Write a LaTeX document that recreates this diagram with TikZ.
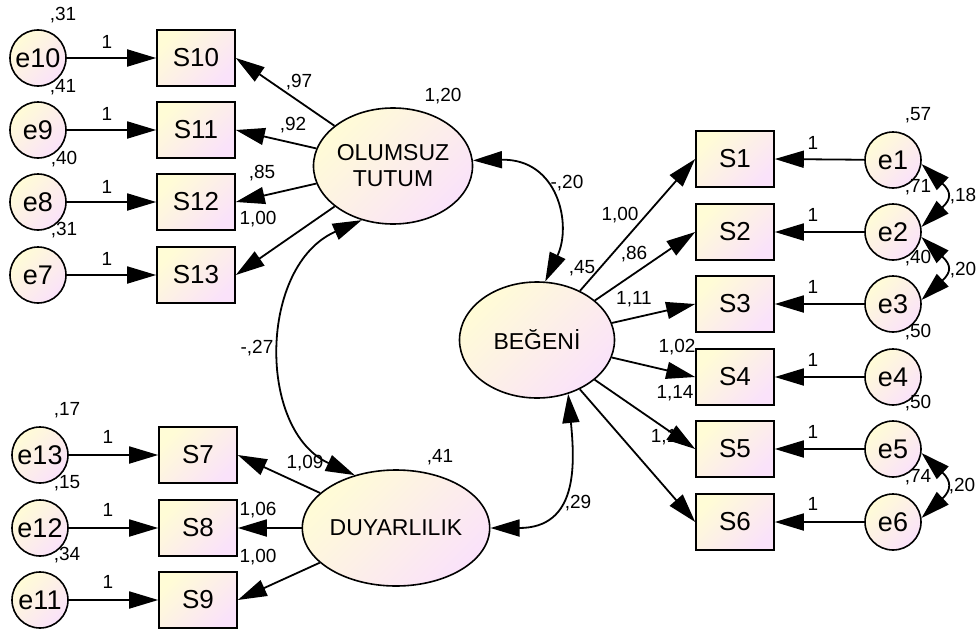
\documentclass[tikz,border=0pt]{standalone}
\usepackage{fontspec}
\setmainfont{Liberation Sans}
\usetikzlibrary{shapes.geometric,arrows.meta}
\definecolor{yel}{RGB}{255,252,214}
\definecolor{pnk}{RGB}{250,226,250}
\tikzset{
  grad/.style={draw=black, line width=1.6pt, top color=yel, bottom color=pnk, shading angle=45},
  errc/.style={grad, circle, minimum size=56pt, inner sep=0pt, font=\fontsize{27}{27}\selectfont},
  obsbox/.style={grad, rectangle, minimum width=78pt, minimum height=56pt, inner sep=0pt, font=\fontsize{26}{26}\selectfont},
  latent/.style={grad, ellipse, minimum width=155pt, minimum height=116pt, inner sep=0pt, align=center, font=\fontsize{23}{26}\selectfont},
  lbl/.style={inner sep=0pt, font=\fontsize{19}{19}\selectfont},
  arr/.style={line width=1.8pt, -{Triangle[length=29pt,width=17pt]}},
  cov/.style={line width=1.8pt, {Triangle[length=29pt,width=17pt]}-{Triangle[length=29pt,width=17pt]}}
}
\begin{document}
\begin{tikzpicture}[x=1pt,y=-1pt]
\useasboundingbox (0,0) rectangle (977,637);
% left-top group
\node[errc] (e10) at (38,58) {e10};
\node[errc] (e9) at (38,130) {e9};
\node[errc] (e8) at (38,202) {e8};
\node[errc] (e7) at (38,275) {e7};
\node[obsbox] (s10) at (196,58) {S10};
\node[obsbox] (s11) at (196,130) {S11};
\node[obsbox] (s12) at (196,202) {S12};
\node[obsbox] (s13) at (196,275) {S13};
% left-bottom group
\node[errc] (e13) at (40,455) {e13};
\node[errc] (e12) at (40,528) {e12};
\node[errc] (e11) at (40,600) {e11};
\node[obsbox] (s7) at (198,455) {S7};
\node[obsbox] (s8) at (198,528) {S8};
\node[obsbox] (s9) at (198,600) {S9};
% latents
\node[latent] (ot) at (393,166) {OLUMSUZ\\TUTUM};
\node[latent] (duy) at (396,528) {DUYARLILIK};
\node[latent] (beg) at (537,340) {BEĞENİ};
% right group
\node[obsbox] (s1) at (735,159) {S1};
\node[obsbox] (s2) at (735,232) {S2};
\node[obsbox] (s3) at (735,304) {S3};
\node[obsbox] (s4) at (735,377) {S4};
\node[obsbox] (s5) at (735,449) {S5};
\node[obsbox] (s6) at (735,522) {S6};
\node[errc] (e1) at (893,160) {e1};
\node[errc] (e2) at (893,232) {e2};
\node[errc] (e3) at (893,304) {e3};
\node[errc] (e4) at (893,377) {e4};
\node[errc] (e5) at (893,449) {e5};
\node[errc] (e6) at (893,522) {e6};

% labels
\node[lbl] (v10) at (63,15) {,31};
\node[lbl] (v9) at (63,87) {,41};
\node[lbl] (v8) at (64,159) {,40};
\node[lbl] (v7) at (64,230) {,31};
\node[lbl] (o10) at (107,42) {1};
\node[lbl] (o9) at (107,114) {1};
\node[lbl] (o8) at (107,187) {1};
\node[lbl] (o7) at (107,259) {1};
\node[lbl] (l10) at (299,82) {,97};
\node[lbl] (l11) at (293,125) {,92};
\node[lbl] (l12) at (262,173) {,85};
\node[lbl] (l13) at (258,219) {1,00};
\node[lbl] (vot) at (443,96) {1,20};
\node[lbl] (c1) at (257,348) {-,27};
\node[lbl] (v13) at (67,410) {,17};
\node[lbl] (v12) at (67,483) {,15};
\node[lbl] (v11) at (67,555) {,34};
\node[lbl] (o13) at (108,437) {1};
\node[lbl] (o12) at (108,510) {1};
\node[lbl] (o11) at (108,582) {1};
\node[lbl] (vduy) at (440,457) {,41};
\node[lbl] (vbeg) at (582,268) {,45};
\node[lbl] (c2) at (567,183) {-,20};
\node[lbl] (c3) at (578,503) {,29};
\node[lbl] (v1) at (918,115) {,57};
\node[lbl] (v2) at (918,187) {,71};
\node[lbl] (v3) at (918,258) {,40};
\node[lbl] (v4) at (918,332) {,50};
\node[lbl] (v5) at (918,403) {,50};
\node[lbl] (v6) at (918,477) {,74};
\node[lbl] (c12) at (963,196) {,18};
\node[lbl] (c23) at (963,270) {,20};
\node[lbl] (c56) at (962,486) {,20};
\node[lbl] (o1) at (813,143) {1};
\node[lbl] (o2) at (813,215) {1};
\node[lbl] (o3) at (813,287) {1};
\node[lbl] (o4) at (813,360) {1};
\node[lbl] (o5) at (813,432) {1};
\node[lbl] (o6) at (813,504) {1};

% arrows error -> indicator
\foreach \e/\s in {e10/s10,e9/s11,e8/s12,e7/s13,e13/s7,e12/s8,e11/s9}
  \draw[arr] (\e) -- (\s.west);
\foreach \e/\s in {e1/s1,e2/s2,e3/s3,e4/s4,e5/s5,e6/s6}
  \draw[arr] (\e) -- (\s.east);
% loadings
\foreach \s in {s10,s11,s12,s13}
  \draw[arr] (ot) -- (\s.east);
\foreach \s in {s7,s8,s9}
  \draw[arr] (duy) -- (\s.east);
\foreach \s in {s1,s2,s3,s4,s6}
  \draw[arr] (beg) -- (\s.west);
% loading labels (right)
\node[lbl] (b1) at (620,215) {1,00};
\node[lbl] (b2) at (634,254) {,86};
\node[lbl] (b3) at (634,299) {1,11};
\node[lbl] (b4) at (677,347) {1,02};
\node[lbl] (b5) at (675,393) {1,14};
\node[lbl] (b6) at (664,437) {1,1};
\node[lbl] (d1) at (305,463) {1,09};
\node[lbl] (d2) at (258,510) {1,06};
\node[lbl] (d3) at (258,557) {1,00};
\draw[arr] (beg) -- (s5.west);
% covariances
\draw[cov] (ot.240) .. controls +(-103,45) and +(-98,-45) .. (duy.128);
\draw[cov] (ot.4) .. controls +(85,-2) and +(27,-57) .. (beg.82);
\draw[cov] (beg.300) .. controls +(7,72) and +(87,0) .. (duy.east);
\draw[cov] (e1.-8) .. controls +(30,28) and +(30,-28) .. (e2.10);
\draw[cov] (e2.-10) .. controls +(30,28) and +(30,-28) .. (e3.8);
\draw[cov] (e5.-8) .. controls +(30,28) and +(30,-28) .. (e6.8);
\end{tikzpicture}
\end{document}
